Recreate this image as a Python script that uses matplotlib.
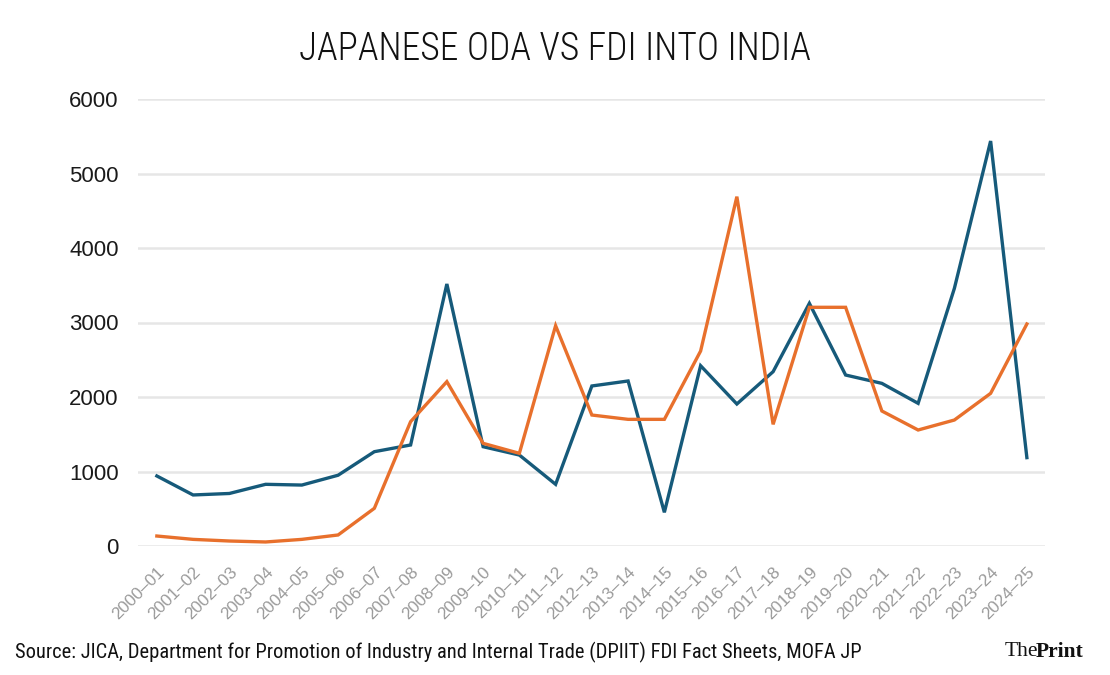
import matplotlib
matplotlib.use("Agg")
import matplotlib.pyplot as plt
from matplotlib import font_manager

years = ["2000–01", "2001–02", "2002–03", "2003–04", "2004–05", "2005–06", "2006–07",
         "2007–08", "2008–09", "2009–10", "2010–11", "2011–12", "2012–13", "2013–14",
         "2014–15", "2015–16", "2016–17", "2017–18", "2018–19", "2019–20", "2020–21",
         "2021–22", "2022–23", "2023–24", "2024–25"]
oda = [940, 685, 705, 828, 818, 950, 1266, 1356, 3517, 1333, 1221, 828, 2148, 2215,
       452, 2420, 1906, 2340, 3257, 2295, 2183, 1915, 3458, 5436, 1186]
fdi = [134, 89, 67, 54, 89, 148, 506, 1669, 2206, 1378, 1244, 2957, 1758, 1700,
       1700, 2617, 4689, 1633, 3204, 3204, 1812, 1557, 1691, 2049, 2980]
yticks = [0, 1000, 2000, 3000, 4000, 5000, 6000]

ttf = font_manager.fontManager.ttflist
names = {f.name for f in ttf}
cond = None
for c in ["Roboto Condensed", "Open Sans Condensed", "Liberation Sans Narrow", "DejaVu Sans Condensed"]:
    if c in names:
        cond = dict(family=c)
        break
if cond is None:
    if any(f.name == "DejaVu Sans" and f.stretch in ("condensed", 700, "semi-condensed") for f in ttf):
        cond = dict(family="DejaVu Sans", stretch="condensed")

fig = plt.figure(figsize=(11.1, 6.75), dpi=100)
ax = fig.add_axes([138/1110, (675-546)/675, (1045-138)/1110, (546-99)/675])

x = list(range(len(years)))
ax.plot(x, oda, color="#165a7a", lw=2.4, solid_joinstyle="miter", clip_on=False, zorder=3)
ax.plot(x, fdi, color="#e8702c", lw=2.4, solid_joinstyle="miter", clip_on=False, zorder=3)

ax.set_xlim(-0.52, 24.5)
ax.set_ylim(0, 6000)
ax.set_yticks(yticks)
ax.set_yticklabels([str(v) for v in yticks], fontsize=16, family="Liberation Sans", color="#1a1a1a")
ax.yaxis.grid(True, color="#e6e6e6", lw=1.8)
ax.set_axisbelow(True)
ax.set_xticks(x)
ax.set_xticklabels(years, rotation=45, ha="right", rotation_mode="anchor",
                   fontsize=12.3, color="#9a9a9a", family="Liberation Sans")
ax.tick_params(axis="both", length=0)
ax.tick_params(axis="y", pad=14)
ax.tick_params(axis="x", pad=13)
for s in ax.spines.values():
    s.set_visible(False)

if cond is not None:
    title_kw = dict(fontsize=27, weight="light", **cond)
    src_kw = dict(fontsize=14.8, **cond)
else:
    title_kw = dict(fontsize=25, family="Roboto", weight="light")
    src_kw = dict(fontsize=12.5, family="Roboto")

fig.text(0.5, 1 - 49/675, "JAPANESE ODA VS FDI INTO INDIA", ha="center", va="center",
         color="#111111", **title_kw)
fig.text(15/1110, 1 - 652/675,
         "Source: JICA, Department for Promotion of Industry and Internal Trade (DPIIT) FDI Fact Sheets, MOFA JP",
         ha="left", va="center", color="#111111", **src_kw)
fig.text(1005/1110, 1 - 652/675, "The", ha="left", va="center", fontsize=15.5,
         family="Liberation Serif", color="#111111")
fig.text(1036/1110, 1 - 652/675, "Print", ha="left", va="center", fontsize=15.5,
         family="Liberation Serif", weight="bold", color="#111111")

fig.savefig("out.png", dpi=100)
